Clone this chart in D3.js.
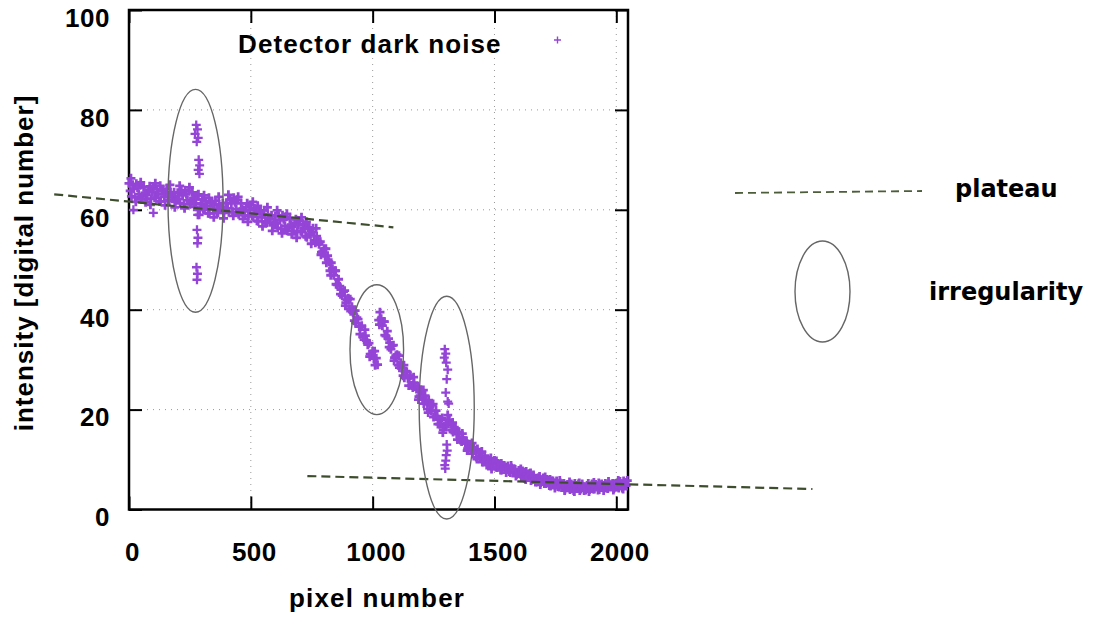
<!DOCTYPE html>
<html>
<head>
<meta charset="utf-8">
<script src="https://cdn.jsdelivr.net/npm/d3@7"></script>
<style>
  body { margin: 0; background: #fff; }
  svg { display: block; font-family: "Liberation Sans", Arial, sans-serif; font-weight: bold; }
</style>
</head>
<body>
<svg id="chart" width="1096" height="617"></svg>
<script>
// dark noise intensity, one reading every 10 detector pixels (0, 10, 20 ...)
var noiseEven = [
  65.3, 62.7, 64.2, 65.2, 63.1, 62.1, 64.5, 63.0, 63.9, 62.2,
  64.4, 62.4, 63.1, 61.7, 63.9, 63.3, 62.0, 63.5, 62.6, 61.6,
  63.4, 61.3, 62.9, 63.9, 61.9, 61.1, 63.5, 62.1, 62.9, 60.0,
  62.1, 60.0, 60.7, 59.3, 61.5, 60.9, 59.6, 61.1, 60.3, 59.4,
  61.4, 59.5, 61.3, 62.4, 60.2, 59.1, 61.3, 59.7, 60.5, 58.8,
  60.9, 58.7, 59.3, 57.7, 59.9, 59.1, 57.7, 59.0, 58.1, 56.9,
  58.7, 56.4, 57.9, 58.9, 56.8, 55.8, 58.2, 56.6, 57.4, 55.6,
  57.8, 55.6, 56.2, 54.5, 56.5, 55.6, 53.9, 54.7, 53.1, 51.5,
  52.2, 49.4, 49.6, 49.4, 46.9, 45.1, 46.1, 44.0, 43.6, 41.4,
  42.3, 39.7, 39.4, 37.3, 38.1, 36.6, 34.6, 34.8, 33.0, 31.1,
  31.7, 28.9, 29.0, 39.5, 36.8, 34.9, 35.7, 33.4, 32.8, 30.4,
  31.0, 28.4, 28.3, 26.4, 27.6, 26.4, 24.8, 25.4, 24.1, 22.6,
  23.5, 21.2, 21.7, 21.9, 19.8, 18.5, 19.8, 18.1, 18.0, 16.0,
  17.0, 17.1, 17.1, 15.5, 16.2, 15.3, 13.9, 14.4, 13.3, 12.2,
  12.9, 11.2, 11.8, 12.1, 10.4, 9.5, 10.8, 9.6, 9.9, 8.6,
  9.8, 8.4, 8.7, 7.9, 8.8, 8.4, 7.6, 8.3, 7.6, 7.0,
  7.8, 6.6, 7.1, 7.6, 6.4, 5.8, 6.9, 6.1, 6.3, 5.4,
  6.3, 5.2, 5.5, 4.7, 5.7, 5.3, 4.6, 5.3, 4.7, 4.1,
  5.0, 4.0, 4.6, 5.2, 4.2, 3.8, 5.1, 4.4, 4.8, 4.0,
  5.1, 4.1, 4.6, 4.0, 5.1, 4.8, 4.3, 5.1, 4.6, 4.2,
  5.2, 4.3, 5.1, 5.7, 4.8
];

// the pixels in between (5, 15, 25 ...)
var noiseOdd = [
  63.8, 65.0, 62.5, 64.4, 64.9, 62.7, 63.4, 62.2, 64.7, 63.5,
  62.4, 64.1, 61.7, 63.7, 62.6, 64.2, 61.8, 62.9, 63.5, 62.1,
  62.2, 63.7, 61.2, 63.1, 63.8, 61.7, 62.4, 61.3, 63.1, 61.2,
  60.1, 61.7, 59.3, 61.3, 60.2, 61.8, 59.4, 60.5, 61.3, 60.0,
  60.3, 62.0, 59.6, 61.5, 62.0, 59.6, 60.1, 58.9, 61.3, 60.0,
  58.8, 60.3, 57.8, 59.7, 58.5, 59.9, 57.4, 58.4, 58.9, 57.4,
  57.4, 58.8, 56.2, 58.1, 58.6, 56.4, 57.0, 55.8, 58.1, 56.9,
  55.7, 57.2, 54.7, 56.4, 55.1, 56.3, 53.4, 53.7, 53.6, 51.6,
  50.7, 50.8, 47.8, 48.2, 47.8, 45.0, 44.7, 42.8, 43.8, 42.0,
  40.2, 40.6, 37.8, 38.4, 36.6, 36.8, 34.0, 33.8, 33.3, 31.1,
  30.2, 30.3, 37.9, 38.2, 37.6, 34.7, 34.2, 32.1, 32.9, 30.8,
  28.9, 29.4, 26.8, 27.7, 26.3, 26.8, 24.4, 24.6, 24.6, 22.8,
  22.2, 22.8, 20.1, 20.9, 20.9, 18.6, 18.6, 17.1, 18.3, 16.6,
  17.3, 17.9, 15.9, 16.5, 15.1, 15.5, 13.6, 13.8, 13.7, 12.3,
  11.9, 12.5, 10.5, 11.4, 11.4, 9.8, 10.0, 9.0, 10.3, 9.3,
  8.5, 9.2, 7.9, 8.8, 8.1, 8.7, 7.4, 7.9, 8.0, 7.2,
  7.1, 7.7, 6.2, 7.1, 7.2, 6.0, 6.2, 5.5, 6.6, 5.9,
  5.2, 6.0, 4.8, 5.7, 5.1, 5.7, 4.5, 5.0, 5.2, 4.4,
  4.3, 5.1, 3.8, 4.8, 5.1, 4.1, 4.5, 3.9, 5.2, 4.6,
  4.1, 5.0, 3.9, 4.9, 4.5, 5.2, 4.2, 4.8, 5.2, 4.5,
  4.7, 5.6, 4.3, 5.4, 5.8
];

// band edges: noisier pixels, every 20 pixels from pixel 8
var noiseEdge = [
  66.3, 61.6, 65.5, 61.5, 61.0, 65.3, 64.8, 60.9, 65.0, 60.5,
  64.8, 60.3, 64.5, 60.6, 59.0, 62.9, 62.4, 58.5, 62.6, 58.3,
  63.0, 58.8, 62.6, 58.2, 57.6, 61.6, 60.8, 56.7, 60.5, 55.8,
  59.9, 55.3, 59.2, 55.1, 54.4, 58.5, 57.6, 53.2, 56.3, 51.0,
  52.2, 46.9, 47.8, 43.1, 40.8, 42.1, 39.8, 35.1, 36.0, 30.6,
  31.7, 37.0, 37.6, 32.5, 29.8, 30.8, 28.9, 24.8, 26.5, 22.0,
  23.9, 19.4, 21.1, 17.1, 15.4, 18.9, 17.4, 14.0, 15.2, 11.8,
  13.3, 10.1, 11.6, 8.9, 8.1, 9.7, 9.2, 7.4, 8.8, 6.7,
  8.1, 6.0, 7.3, 5.5, 5.0, 6.5, 6.0, 4.3, 5.8, 3.8,
  5.5, 3.6, 5.3, 3.8, 3.6, 5.4, 5.3, 3.8, 5.6, 3.9,
  5.8, 4.1
];
var evenFirstPixel = 0;
var oddFirstPixel = 5;
var edgeFirstPixel = 8;
var pixelStep = 10;
var edgeStep = 20;

// hot / cold pixels that stick out of the band
var spikePixels = [276, 281, 271, 284, 278, 286, 290, 284, 289, 279, 283, 281, 277, 281, 279,
  18, 100, 282,
  1296, 1300, 1294, 1302, 1308, 1304, 1300, 1308, 1312, 1304, 1306, 1302, 1300, 1296, 1298];
var spikeValues = [77.0, 76.1, 75.2, 74.4, 73.6, 70.0, 68.9, 68.0, 67.2, 56.0, 54.4, 53.3, 48.5, 47.2, 46.0,
  60.0, 59.4, 59.0,
  32.1, 31.2, 30.4, 29.4, 28.0, 26.1, 23.4, 21.6, 21.2, 13.0, 11.8, 10.9, 9.8, 8.9, 8.2];

var xTicks = [0, 500, 1000, 1500, 2000];
var yTicks = [0, 20, 40, 60, 80, 100];

// plateau guide lines, [pixel, intensity] end points
var plateauFits = [
  [[-307, 63.1], [1085, 56.5]],
  [[732, 6.7], [2805, 4.1]]
];

// irregularities: centre and half extent in pixel number / intensity
var irregularities = [
  { pixel: 273, value: 61.8, halfPixels: 113, halfValue: 22.3 },
  { pixel: 1017, value: 32.0, halfPixels: 110, halfValue: 13.0 },
  { pixel: 1304, value: 20.4, halfPixels: 113, halfValue: 22.3 }
];

var svg = d3.select("#chart");

// plot frame
var plotLeft = 129, plotRight = 628, plotTop = 10, plotBottom = 509.5;
var purple = "#9444d6";
var olive = "#3e4d2e";
var plus = "M-4.5,0H4.5M0,-4.5V4.5";

var xScale = d3.scaleLinear().domain([0, 2048]).range([plotLeft, plotRight]);
var yScale = d3.scaleLinear().domain([0, 100]).range([plotBottom, plotTop]);

plotGrid();
plotAxes();
plotNoise(noiseEven, evenFirstPixel, pixelStep);
plotNoise(noiseOdd, oddFirstPixel, pixelStep);
plotNoise(noiseEdge, edgeFirstPixel, edgeStep);
plotSpikes();
plotAnnotations();
plotKey();

function plotGrid() {
  var g = svg.append("g")
    .attr("stroke", "#999")
    .attr("stroke-width", 1)
    .attr("stroke-dasharray", "1,5");

  g.selectAll(".vx").data(xTicks.slice(1)).join("line")
    .attr("x1", d => xScale(d)).attr("x2", d => xScale(d))
    .attr("y1", plotTop).attr("y2", plotBottom);

  g.selectAll(".hy").data(yTicks.slice(1, -1)).join("line")
    .attr("x1", plotLeft).attr("x2", plotRight)
    .attr("y1", d => yScale(d)).attr("y2", d => yScale(d));
}

function plotAxes() {
  // ticks point inward and are mirrored on every side, gnuplot style
  var gx = svg.append("g")
    .attr("transform", "translate(0," + plotBottom + ")")
    .call(d3.axisBottom(xScale).tickValues(xTicks).tickFormat(d3.format("d")).tickSize(-13).tickPadding(33));
  var gy = svg.append("g")
    .attr("transform", "translate(" + plotLeft + ",0)")
    .call(d3.axisLeft(yScale).tickValues(yTicks).tickFormat(d3.format("d")).tickSize(-13).tickPadding(19));
  var gt = svg.append("g")
    .attr("transform", "translate(0," + plotTop + ")")
    .call(d3.axisTop(xScale).tickValues(xTicks).tickSize(-13).tickFormat(""));
  var gr = svg.append("g")
    .attr("transform", "translate(" + plotRight + ",0)")
    .call(d3.axisRight(yScale).tickValues(yTicks).tickSize(-13).tickFormat(""));

  [gx, gy, gt, gr].forEach(function (g) {
    g.select(".domain").remove();
    g.selectAll(".tick line").attr("stroke", "#000").attr("stroke-width", 2);
    g.selectAll("text")
      .attr("fill", "#000")
      .style("font-family", "'Liberation Sans', Arial, sans-serif")
      .style("font-weight", "bold")
      .style("font-size", "26px")
      .style("letter-spacing", "0.5px");
  });
  gx.selectAll("text").attr("dx", 3);
  gy.selectAll("text").attr("dy", "0.63em");

  svg.append("rect")
    .attr("x", plotLeft).attr("y", plotTop)
    .attr("width", plotRight - plotLeft).attr("height", plotBottom - plotTop)
    .attr("fill", "none")
    .attr("stroke", "#000")
    .attr("stroke-width", 2.5);

  //x-axis label
  svg.append("text")
    .attr("x", 377).attr("y", 607)
    .attr("text-anchor", "middle")
    .style("font-size", "26px")
    .style("letter-spacing", "1.2px")
    .text("pixel number");

  //y-axis label, rotated to be vertical text
  svg.append("text")
    .attr("transform", "translate(33,263)rotate(-90)")
    .attr("text-anchor", "middle")
    .style("font-size", "26px")
    .style("letter-spacing", "1px")
    .text("intensity [digital number]");
}

function plotNoise(values, firstPixel, step) {
  svg.append("g")
    .attr("stroke", purple)
    .attr("stroke-width", 2.8)
    .selectAll("path").data(values).join("path")
    .attr("transform", (d, i) => "translate(" + xScale(firstPixel + i * step) + "," + yScale(d) + ")")
    .attr("d", plus);
}

function plotSpikes() {
  svg.append("g")
    .attr("stroke", purple)
    .attr("stroke-width", 2.3)
    .selectAll("path").data(spikeValues).join("path")
    .attr("transform", (d, i) => "translate(" + xScale(spikePixels[i]) + "," + yScale(d) + ")")
    .attr("d", plus);
}

function plotAnnotations() {
  svg.append("g").selectAll("line").data(plateauFits).join("line")
    .attr("x1", d => xScale(d[0][0])).attr("y1", d => yScale(d[0][1]))
    .attr("x2", d => xScale(d[1][0])).attr("y2", d => yScale(d[1][1]))
    .attr("stroke", olive)
    .attr("stroke-width", 2.2)
    .attr("stroke-dasharray", "9,5");

  svg.append("g").selectAll("ellipse").data(irregularities).join("ellipse")
    .attr("cx", d => xScale(d.pixel))
    .attr("cy", d => yScale(d.value))
    .attr("rx", d => xScale(d.halfPixels) - xScale(0))
    .attr("ry", d => yScale(0) - yScale(d.halfValue))
    .attr("fill", "none")
    .attr("stroke", "#666")
    .attr("stroke-width", 1.4);
}

function plotKey() {
  svg.append("text")
    .attr("x", 238).attr("y", 53)
    .style("font-size", "26px")
    .style("letter-spacing", "1.1px")
    .text("Detector dark noise");

  svg.append("path")
    .attr("transform", "translate(557.5,40)")
    .attr("d", "M-3.5,0H3.5M0,-3.5V3.5")
    .attr("stroke", purple)
    .attr("stroke-width", 1.4);

  // explanation of the hand-drawn marks, right of the plot
  svg.append("line")
    .attr("x1", 735).attr("y1", 193)
    .attr("x2", 922).attr("y2", 191)
    .attr("stroke", "#4d5d3a")
    .attr("stroke-width", 1.8)
    .attr("stroke-dasharray", "8,5");

  svg.append("text")
    .attr("x", 955).attr("y", 197)
    .style("font-family", "'DejaVu Sans', Verdana, sans-serif")
    .style("font-size", "24px")
    .text("plateau");

  svg.append("ellipse")
    .attr("cx", 822.5).attr("cy", 291.5)
    .attr("rx", 27.5).attr("ry", 50.5)
    .attr("fill", "none")
    .attr("stroke", "#666")
    .attr("stroke-width", 1.4);

  svg.append("text")
    .attr("x", 929).attr("y", 300)
    .style("font-family", "'DejaVu Sans', Verdana, sans-serif")
    .style("font-size", "24px")
    .text("irregularity");
}
</script>
</body>
</html>
